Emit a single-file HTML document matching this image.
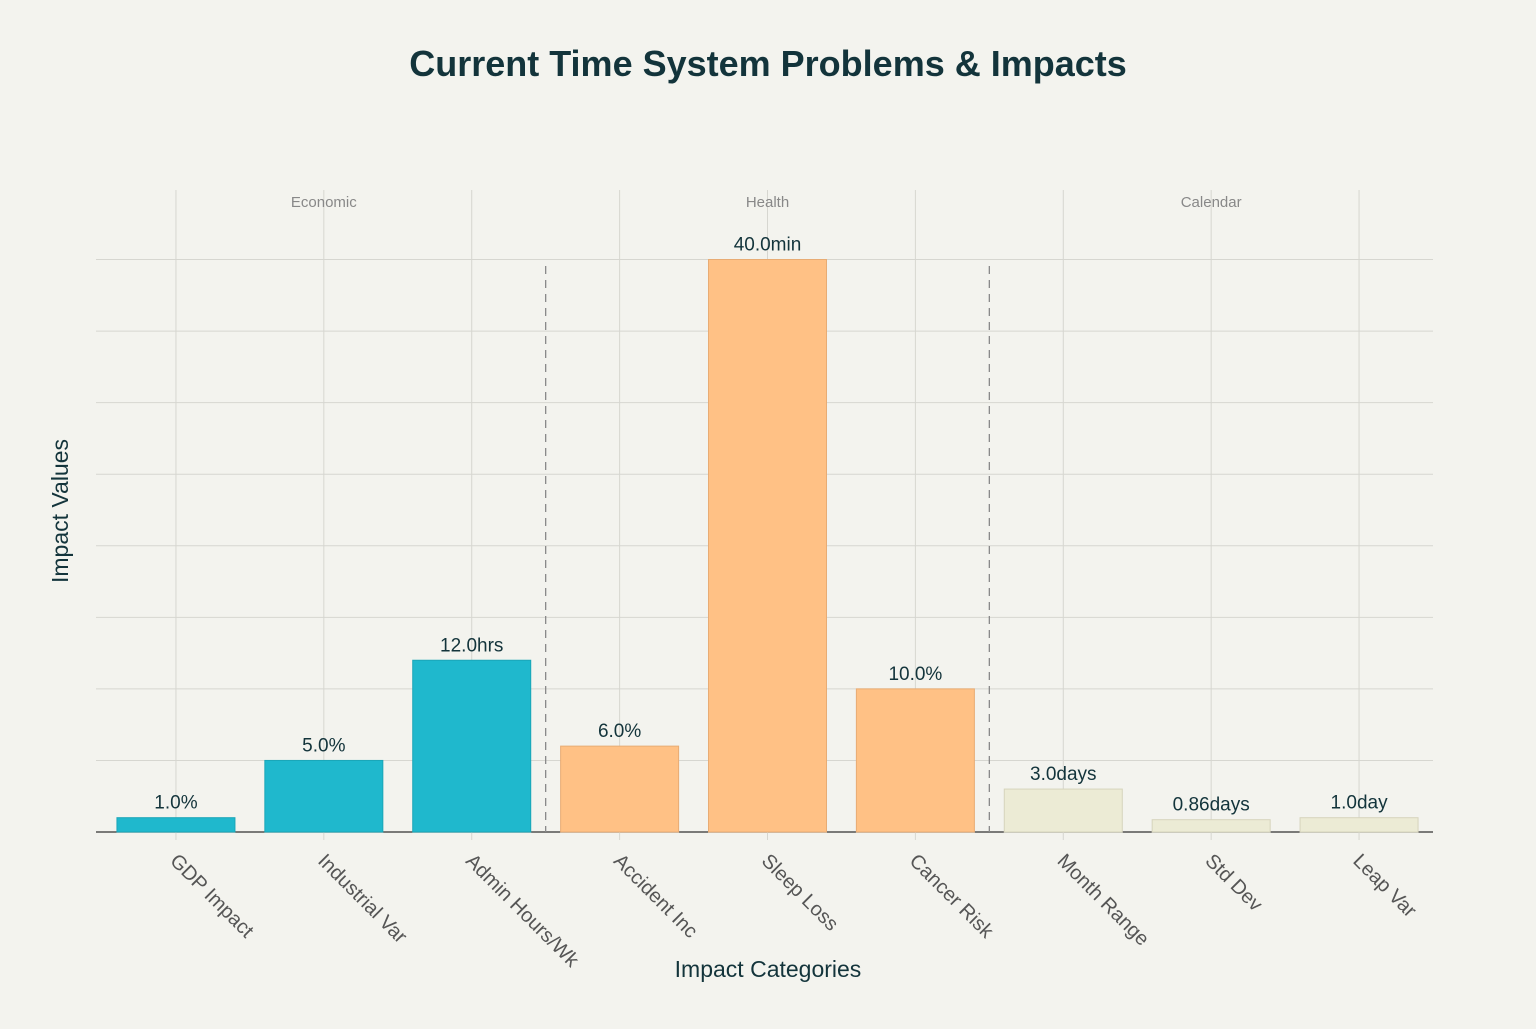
<!DOCTYPE html>
<html><head><meta charset="utf-8"><style>
html,body{margin:0;padding:0;background:#F3F3EE;}
svg text{font-family:"Liberation Sans",sans-serif;}
</style></head><body>
<svg id="chart" width="1536" height="1024" viewBox="0 0 1536 1024" xmlns="http://www.w3.org/2000/svg">
<rect width="1536" height="1024" fill="#F3F3EE"/>
<text x="768" y="76" text-anchor="middle" font-size="36" font-weight="bold" fill="#13343B">Current Time System Problems &amp; Impacts</text>
<g id="grid"></g><g id="bars"></g><g id="labels"></g>
<text x="768" y="977" text-anchor="middle" font-size="23" fill="#13343B">Impact Categories</text>
<text transform="translate(68,511) rotate(-90)" text-anchor="middle" font-size="23" fill="#13343B">Impact Values</text>
</svg>
<script>
const categories=["GDP Impact","Industrial Var","Admin Hours/Wk","Accident Inc","Sleep Loss","Cancer Risk","Month Range","Std Dev","Leap Var"];
const values=[1.0,5.0,12.0,6.0,40.0,10.0,3.0,0.86,1.0];
const valueLabels=["1.0%","5.0%","12.0hrs","6.0%","40.0min","10.0%","3.0days","0.86days","1.0day"];
const groups=["Economic","Economic","Economic","Health","Health","Health","Calendar","Calendar","Calendar"];
const groupNames=["Economic","Health","Calendar"];
const yTicks=[0,5,10,15,20,25,30,35,40];
const NS="http://www.w3.org/2000/svg";
const x0=102,x1=1433,yBase=832,yTop=259.5,yMax=40;
const step=(x1-x0)/categories.length;
const xc=i=>x0+step*(i+0.5);
const y=v=>yBase-(v/yMax)*(yBase-yTop);
const colors={Economic:["#1FB8CD","#1AA6B8"],Health:["#FFC185","#E8AC74"],Calendar:["#ECEBD5","#D6D4BC"]};
function mk(tag,attrs,parent){const e=document.createElementNS(NS,tag);for(const k in attrs)e.setAttribute(k,attrs[k]);parent.appendChild(e);return e;}
const grid=document.getElementById('grid'),bars=document.getElementById('bars'),labels=document.getElementById('labels');
yTicks.forEach((t,i)=>{const l=mk('line',{x1:96,x2:x1,y1:y(t),y2:y(t),stroke:t===0?"#333":"#D6D6D0","stroke-width":t===0?1.2:1},grid);

});
categories.forEach((c,i)=>{const l=mk('line',{x1:xc(i),x2:xc(i),y1:190,y2:840,stroke:"#D6D6D0","stroke-width":1},grid);

});
groupNames.forEach((g,gi)=>{const idx=groups.indexOf(g);const t=mk('text',{x:xc(idx+1),y:207,"text-anchor":"middle","font-size":15,fill:"#888"},labels);t.textContent=g;


if(gi>0){const d=mk('line',{x1:x0+step*idx,x2:x0+step*idx,y1:266,y2:832,stroke:"#888","stroke-width":1.3,"stroke-dasharray":"8,6"},grid);

}});
categories.forEach((c,i)=>{const w=118,cl=colors[groups[i]];
const r=mk('rect',{x:xc(i)-w/2,y:y(values[i]),width:w,height:yBase-y(values[i]),fill:cl[0],stroke:cl[1],"stroke-width":1},bars);


const v=mk('text',{x:xc(i),y:y(values[i])-9,"text-anchor":"middle","font-size":19,fill:"#13343B"},labels);v.textContent=valueLabels[i];


const t=mk('text',{transform:`translate(${xc(i)-7},${862}) rotate(45)`,"font-size":20,fill:"#555"},labels);t.textContent=c;

});
</script>
</body></html>
